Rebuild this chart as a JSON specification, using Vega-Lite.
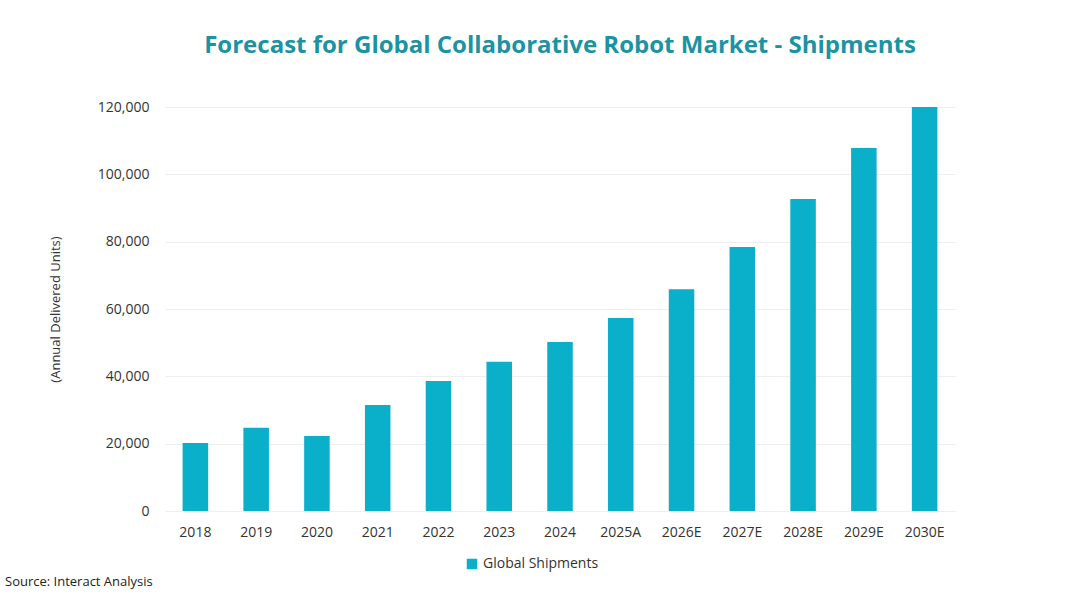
{
  "$schema": "https://vega.github.io/schema/vega-lite/v6.json",
  "autosize": "none",
  "width": 790,
  "height": 404,
  "padding": {"left": 165, "top": 107, "right": 125, "bottom": 96},
  "background": "white",
  "config": {"view": {"stroke": null}},
  "title": {
    "text": "Forecast for Global Collaborative Robot Market - Shipments",
    "fontSize": 24,
    "font": "Open Sans",
    "fontWeight": "bold",
    "color": "#1a93a3",
    "anchor": "middle",
    "frame": "group",
    "offset": 42
  },
  "data": {
    "values": [
      {"year": "2018", "units": 20200, "series": "Global Shipments"},
      {"year": "2019", "units": 24700, "series": "Global Shipments"},
      {"year": "2020", "units": 22300, "series": "Global Shipments"},
      {"year": "2021", "units": 31500, "series": "Global Shipments"},
      {"year": "2022", "units": 38600, "series": "Global Shipments"},
      {"year": "2023", "units": 44300, "series": "Global Shipments"},
      {"year": "2024", "units": 50200, "series": "Global Shipments"},
      {"year": "2025A", "units": 57300, "series": "Global Shipments"},
      {"year": "2026E", "units": 65900, "series": "Global Shipments"},
      {"year": "2027E", "units": 78400, "series": "Global Shipments"},
      {"year": "2028E", "units": 92700, "series": "Global Shipments"},
      {"year": "2029E", "units": 107800, "series": "Global Shipments"},
      {"year": "2030E", "units": 120000, "series": "Global Shipments"}
    ]
  },
  "layer": [
    {
      "mark": {"type": "bar", "color": "#0aafca"},
      "encoding": {
        "x": {
          "field": "year", "type": "ordinal", "sort": null,
          "scale": {"paddingInner": 0.58, "paddingOuter": 0.29},
          "axis": {"title": null, "labelAngle": 0, "ticks": false, "domain": false, "labelPadding": 14, "labelFontSize": 14, "labelColor": "#333", "labelFont": "Open Sans"}
        },
        "y": {
          "field": "units", "type": "quantitative",
          "scale": {"domain": [0, 120000]},
          "axis": {"title": "(Annual Delivered Units)", "titleFontSize": 13, "titleFontWeight": "normal", "titleColor": "#333", "titleFont": "Open Sans", "titlePadding": 35, "tickCount": 6, "format": ",d", "ticks": false, "domain": false, "labelPadding": 16, "labelFontSize": 14, "labelColor": "#333", "labelFont": "Open Sans", "gridColor": "#eeeeee"}
        },
        "color": {
          "field": "series", "type": "nominal",
          "scale": {"range": ["#0aafca"]},
          "legend": {"title": null, "orient": "none", "legendX": 300, "legendY": 450, "direction": "horizontal", "symbolType": "square", "symbolSize": 110, "labelFontSize": 14, "labelColor": "#333", "labelFont": "Open Sans"}
        }
      }
    },
    {
      "data": {"values": [{"t": "Source: Interact Analysis"}]},
      "mark": {"type": "text", "align": "left", "baseline": "middle", "fontSize": 13, "font": "Open Sans", "color": "#222"},
      "encoding": {
        "text": {"field": "t"},
        "x": {"value": -160},
        "y": {"value": 475}
      }
    }
  ]
}
